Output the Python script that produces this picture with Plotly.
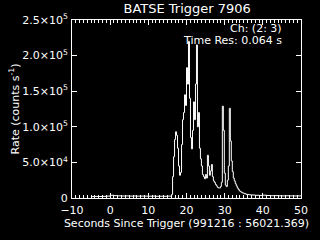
import plotly.graph_objects as go

# Time (s since trigger, bin left edges) and rate (counts/s)
pre_t = [-5, -4, -3, -2, -1, 0, 1, 2, 3, 4, 5, 6, 7, 8, 9, 10, 11, 12, 13, 14, 15]
pre_r = [2000, 2200, 2100, 2300, 2600, 3800, 3300, 3000, 2800, 2900, 2700, 2800,
         2600, 2700, 2600, 2500, 2600, 2400, 2500, 2400, 2600]

burst_t = [16.09, 16.35, 16.61, 16.87, 17.13, 17.39, 17.65, 17.91, 18.17, 18.43,
           18.70, 18.96, 19.22, 19.48, 19.74, 20.00, 20.26, 20.52, 20.78, 21.04,
           21.30, 21.57, 21.83, 22.09, 22.35, 22.61, 22.87, 23.13, 23.39, 23.65,
           23.91, 24.17, 24.43, 24.70, 24.96, 25.22, 25.48, 25.74, 26.00, 26.26,
           26.52, 26.78, 27.04, 27.30, 27.57, 27.83, 28.09, 28.35, 28.61, 28.87,
           29.13, 29.39, 29.65, 29.91, 30.17, 30.43, 30.70, 30.96, 31.22, 31.48,
           31.74, 32.00, 32.26, 32.52, 32.78, 33.04, 33.30, 33.57, 33.83, 34.09,
           34.35, 34.61, 35.13, 35.65, 36.43]
burst_r = [5000, 30000, 58000, 82000, 93000, 88000, 70000, 45000, 32000, 36000,
           75000, 110000, 120000, 145000, 130000, 183000, 160000, 220000, 140000, 85000,
           69000, 95000, 135000, 110000, 160000, 215000, 100000, 120000, 70000, 55000,
           45000, 33000, 30000, 27000, 33000, 28000, 60000, 45000, 32000, 38000,
           47000, 30000, 24000, 22000, 19000, 17000, 15000, 14000, 14000, 16000,
           22000, 129000, 95000, 35000, 18000, 16000, 25000, 45000, 126000, 80000,
           52000, 37000, 28000, 24000, 20000, 17000, 14000, 12000, 10000, 9000,
           8000, 7000, 6000, 5000, 4500]

post_t = [37, 38, 39, 40, 41, 42, 43, 44, 45, 46, 47, 48, 49, 50]
post_r = [4200, 3800, 3600, 3900, 3500, 3200, 3300, 3100, 3000, 3100, 3000, 2900, 3000, 3000]

times = pre_t + burst_t + post_t
rates = pre_r + burst_r + post_r

x_ticks = [-10, 0, 10, 20, 30, 40, 50]
y_tickvals = [0, 50000, 100000, 150000, 200000, 250000]
y_ticktext = ["0", "5.0×10<sup>4</sup>", "1.0×10<sup>5</sup>", "1.5×10<sup>5</sup>",
              "2.0×10<sup>5</sup>", "2.5×10<sup>5</sup>"]

FONT = "DejaVu Sans"

fig = go.Figure()
fig.add_trace(go.Scatter(x=times, y=rates, mode="lines",
                         line=dict(color="white", width=1, shape="hv"),
                         showlegend=False, hoverinfo="skip"))

axis_common = dict(showline=True, linecolor="white", linewidth=1, mirror="allticks",
                   ticks="inside", tickcolor="white", tickwidth=1, showgrid=False,
                   zeroline=False, tickfont=dict(family=FONT, size=11, color="white"))

fig.update_layout(
    width=320, height=240,
    paper_bgcolor="black", plot_bgcolor="black",
    margin=dict(l=72, r=18, t=18, b=38, pad=0),
    title=dict(text="BATSE Trigger 7906", x=0.585, xanchor="center", y=0.985, yanchor="top",
               font=dict(family=FONT, size=13, color="white")),
    xaxis=dict(range=[-10, 50], tickvals=x_ticks, ticklen=5, ticklabelstandoff=2,
               minor=dict(dtick=1, ticks="inside", ticklen=3, tickcolor="white", tickwidth=1),
               title=dict(text="Seconds Since Trigger (991216 : 56021.369)", standoff=3,
                          font=dict(family=FONT, size=11, color="white")),
               **axis_common),
    yaxis=dict(range=[0, 250000], tickvals=y_tickvals, ticktext=y_ticktext, ticklen=5,
               ticklabelstandoff=1,
               title=dict(text="Rate (counts s<sup>-1</sup>)", standoff=0,
                          font=dict(family=FONT, size=11, color="white")),
               **axis_common),
    annotations=[
        dict(text="Ch: (2: 3)", x=0.926, y=0.951, xref="paper", yref="paper",
             xanchor="right", yanchor="middle", showarrow=False,
             font=dict(family=FONT, size=11, color="white")),
        dict(text="Time Res: 0.064 s", x=0.926, y=0.886, xref="paper", yref="paper",
             xanchor="right", yanchor="middle", showarrow=False,
             font=dict(family=FONT, size=11, color="white")),
    ],
)

fig.write_html("out.html")
